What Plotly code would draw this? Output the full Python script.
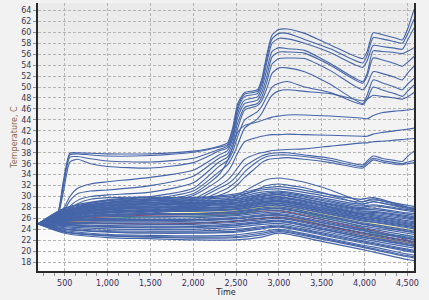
import plotly.graph_objects as go

# ---------------- data ----------------
T_LOW = [190, 500, 1000, 1500, 2000, 2500, 2800, 3000, 3500, 3950, 4100, 4500, 4577]
T_UP = [190, 400, 480, 560, 650, 800, 1000, 1500, 2000, 2300, 2400, 2460, 2520, 2600, 2750,
        2800, 2860, 2920, 3000, 3100, 3300, 3600, 3980, 4030, 4100, 4200, 4350, 4440, 4500, 4577]

X_TICKS = [500, 1000, 1500, 2000, 2500, 3000, 3500, 4000, 4500]
X_LABELS = ["500", "1,000", "1,500", "2,000", "2,500", "3,000", "3,500", "4,000", "4,500"]
Y_TICKS = list(range(18, 65, 2))

# coloured series (mostly hidden under the blue ones)
C_RED = [25, 25.8, 26.3, 26.6, 26.7, 26.9, 27.3, 27.4, 25.8, 24.2, 23.8, 22.0, 21.0]
C_ORANGE = [25, 25.4, 25.6, 25.7, 25.8, 26.0, 26.5, 26.6, 24.9, 23.0, 22.6, 21.6, 21.5]
C_YELLOW = [25, 25.9, 26.5, 26.9, 27.0, 27.4, 28.0, 28.1, 26.8, 25.3, 25.0, 24.0, 23.8]
C_GREEN = [25, 25.6, 26.0, 26.3, 26.4, 26.8, 27.6, 27.8, 26.2, 24.5, 23.2, 22.8, 22.7]
C_DARKRED = [25, 25.2, 25.1, 25.0, 25.1, 25.5, 26.0, 26.2, 24.8, 23.4, 23.0, 21.9, 21.7]

# lower band series
B01 = [25, 27.9, 29.4, 29.9, 29.7, 30.2, 31.2, 31.4, 30.2, 29.0, 29.4, 28.4, 28.2]
B02 = [25, 27.6, 29.0, 29.6, 29.5, 29.9, 30.8, 31.0, 29.8, 28.6, 29.0, 28.0, 27.8]
B03 = [25, 27.4, 28.8, 29.3, 29.2, 29.5, 30.3, 30.6, 29.3, 28.0, 28.3, 27.4, 27.2]
B04 = [25, 27.3, 28.5, 29.0, 28.9, 29.2, 30.0, 30.3, 28.9, 27.6, 27.6, 26.8, 26.6]
B05 = [25, 27.1, 28.3, 28.8, 28.6, 28.9, 29.6, 29.9, 28.5, 27.2, 27.1, 26.3, 26.1]
B06 = [25, 26.9, 28.0, 28.5, 28.4, 28.6, 29.3, 29.5, 28.2, 26.9, 26.7, 25.9, 25.7]
B07 = [25, 26.8, 27.7, 28.1, 28.0, 28.3, 29.0, 29.2, 27.9, 26.6, 26.3, 25.4, 25.2]
B08 = [25, 26.6, 27.5, 27.9, 27.9, 28.1, 28.8, 29.0, 27.6, 26.3, 26.0, 25.0, 24.8]
B09 = [25, 26.5, 27.2, 27.5, 27.5, 27.8, 28.5, 28.7, 27.3, 26.0, 25.6, 24.7, 24.5]
B10 = [25, 26.4, 27.0, 27.3, 27.3, 27.6, 28.2, 28.4, 27.0, 25.6, 25.3, 24.3, 24.1]
B11 = [25, 26.2, 26.7, 26.9, 26.9, 27.3, 27.9, 28.1, 26.7, 25.3, 24.9, 23.9, 23.7]
B12 = [25, 26.1, 26.5, 26.7, 26.7, 27.0, 27.6, 27.8, 26.4, 25.0, 24.6, 23.6, 23.4]
B13 = [25, 26.0, 26.3, 26.4, 26.4, 26.7, 27.3, 27.5, 26.1, 24.7, 24.3, 23.3, 23.1]
B14 = [25, 25.8, 26.0, 26.1, 26.1, 26.5, 27.0, 27.2, 25.8, 24.4, 24.0, 22.9, 22.7]
B15 = [25, 25.7, 25.8, 25.8, 25.8, 26.2, 26.7, 26.9, 25.5, 24.1, 23.7, 22.6, 22.4]
B16 = [25, 25.5, 25.5, 25.5, 25.5, 25.9, 26.4, 26.6, 25.2, 23.8, 23.4, 22.3, 22.1]
B17 = [25, 25.3, 25.2, 25.2, 25.2, 25.6, 26.1, 26.3, 24.9, 23.5, 23.1, 22.0, 21.8]
B18 = [25, 25.1, 25.0, 24.9, 24.9, 25.3, 25.8, 26.0, 24.6, 23.2, 22.8, 21.7, 21.5]
B19 = [25, 24.9, 24.7, 24.6, 24.6, 25.0, 25.5, 25.7, 24.3, 22.9, 22.5, 21.4, 21.2]
B20 = [25, 24.7, 24.4, 24.3, 24.3, 24.7, 25.2, 25.4, 24.0, 22.6, 22.2, 21.1, 20.9]
B21 = [25, 24.5, 24.1, 24.0, 24.0, 24.4, 24.9, 25.1, 23.7, 22.3, 21.9, 20.8, 20.6]
B22 = [25, 24.3, 23.8, 23.7, 23.7, 24.0, 24.5, 24.8, 23.4, 22.0, 21.6, 20.4, 20.2]
B23 = [25, 24.0, 23.5, 23.3, 23.3, 23.5, 24.1, 24.4, 23.0, 21.6, 21.2, 20.0, 19.8]
B24 = [25, 23.8, 23.1, 22.9, 22.8, 23.0, 23.6, 24.0, 22.6, 21.2, 20.8, 19.5, 19.3]
B25 = [25, 23.5, 22.8, 22.6, 22.4, 22.5, 23.0, 23.6, 22.2, 20.8, 20.3, 19.0, 18.8]
B26 = [25, 23.3, 22.5, 22.3, 22.1, 22.1, 22.6, 23.3, 21.8, 20.4, 19.9, 18.5, 18.3]
A01 = [25, 27.8, 29.2, 29.8, 29.8, 30.5, 31.5, 31.8, 30.6, 29.5, 29.8, 28.0, 27.6]
A02 = [25, 27.5, 28.9, 29.5, 29.3, 29.6, 30.5, 30.8, 29.5, 28.3, 28.5, 27.6, 27.4]
A03 = [25, 27.2, 28.7, 29.2, 29.0, 29.3, 30.1, 30.4, 29.0, 27.8, 27.9, 27.0, 26.9]
A04 = [25, 27.0, 28.4, 28.9, 28.7, 29.0, 29.8, 30.0, 28.7, 27.4, 27.3, 26.5, 26.3]
A05 = [25, 26.9, 28.1, 28.6, 28.5, 28.8, 29.5, 29.7, 28.4, 27.0, 26.9, 26.1, 25.9]
A06 = [25, 26.7, 27.9, 28.3, 28.2, 28.5, 29.1, 29.3, 28.0, 26.8, 26.5, 25.6, 25.4]
A07 = [25, 26.6, 27.6, 28.0, 27.8, 28.2, 28.9, 29.1, 27.7, 26.4, 26.1, 25.2, 25.0]
A08 = [25, 26.4, 27.3, 27.6, 27.6, 28.0, 28.6, 28.8, 27.4, 26.1, 25.8, 24.8, 24.6]
A09 = [25, 26.3, 27.1, 27.4, 27.4, 27.7, 28.3, 28.5, 27.1, 25.8, 25.4, 24.5, 24.3]
A10 = [25, 26.1, 26.6, 26.8, 26.8, 27.2, 27.7, 27.9, 26.5, 25.1, 24.7, 23.7, 23.5]
A11 = [25, 25.6, 25.6, 25.6, 25.7, 26.0, 26.5, 26.7, 25.3, 23.9, 23.5, 22.4, 22.2]
A12 = [25, 24.8, 24.5, 24.4, 24.5, 24.8, 25.3, 25.5, 24.1, 22.7, 22.3, 21.2, 21.0]
A13 = [25, 24.1, 23.6, 23.5, 23.5, 23.7, 24.3, 24.6, 23.2, 21.8, 21.4, 20.2, 20.0]
A14 = [25, 23.6, 22.9, 22.7, 22.6, 22.7, 23.3, 23.8, 22.4, 21.0, 20.5, 19.2, 19.0]

# upper series
T1 = [25, 26.0, 32.5, 37.9, 38.0, 37.9, 37.8, 37.8, 38.3, 39.2, 39.8, 42.5, 47.0, 49.0, 49.5,
      51.5, 56.0, 59.5, 60.5, 60.6, 59.8, 57.7, 55.2, 56.5, 59.9, 59.6, 59.0, 58.6, 60.5, 64.2]
T2 = [25, 26.0, 32.0, 37.6, 37.8, 37.6, 37.4, 37.5, 38.1, 39.0, 39.5, 42.0, 46.5, 48.7, 49.2,
      51.0, 55.3, 58.8, 59.8, 59.8, 58.7, 57.0, 54.4, 55.8, 59.0, 58.8, 58.3, 58.0, 59.6, 62.4]
T3 = [25, 25.9, 31.5, 37.2, 37.3, 36.9, 36.5, 36.3, 37.0, 38.6, 39.2, 41.5, 46.0, 48.3, 48.8,
      50.5, 54.5, 58.0, 58.9, 58.8, 58.0, 56.3, 53.6, 54.8, 57.6, 57.4, 57.1, 56.9, 58.5, 60.8]
T4 = [25, 25.8, 30.5, 36.3, 36.8, 36.0, 35.5, 35.2, 36.2, 38.3, 38.9, 41.0, 45.3, 47.6, 48.2,
      49.8, 53.2, 56.5, 57.2, 57.0, 56.7, 54.3, 51.0, 52.5, 56.6, 56.5, 56.3, 56.1, 56.5, 57.2]
T5 = [25, 25.6, 27.5, 30.0, 31.5, 32.3, 32.7, 33.5, 34.8, 37.6, 38.4, 40.5, 44.5, 47.0, 47.6,
      49.0, 52.0, 55.5, 56.4, 56.4, 56.2, 54.0, 50.7, 52.0, 55.3, 55.0, 54.3, 53.8, 54.5, 55.6]
T6 = [25, 25.5, 27.0, 29.2, 30.5, 31.0, 31.2, 32.0, 33.7, 37.0, 37.8, 39.8, 43.5, 46.3, 47.0,
      48.2, 51.0, 54.2, 55.2, 55.3, 55.2, 53.0, 49.5, 50.5, 52.8, 52.5, 51.8, 51.3, 52.5, 53.8]
T7 = [25, 25.4, 26.5, 28.2, 29.3, 30.0, 30.3, 30.8, 32.5, 36.3, 37.2, 39.0, 42.5, 45.8, 46.6,
      47.5, 49.8, 52.5, 53.5, 53.5, 52.8, 50.5, 47.0, 48.5, 51.3, 50.8, 50.0, 49.5, 50.5, 51.6]
T8 = [25, 25.4, 26.3, 27.8, 28.7, 29.5, 29.8, 30.0, 31.5, 35.5, 36.6, 38.2, 41.0, 44.0, 45.5,
      46.5, 48.3, 50.0, 50.7, 51.0, 50.0, 49.0, 46.8, 47.8, 50.0, 49.5, 48.8, 48.3, 49.2, 50.4]
T9 = [25, 25.3, 26.0, 27.2, 28.0, 28.8, 29.3, 29.6, 31.0, 34.5, 35.8, 37.3, 39.5, 42.5, 44.2,
      45.2, 47.0, 48.5, 49.3, 49.5, 49.2, 48.8, 47.5, 47.8, 48.5, 48.3, 48.0, 47.8, 48.2, 49.0]
T10 = [25, 25.3, 25.9, 26.8, 27.5, 28.2, 28.7, 29.2, 30.5, 34.0, 36.5, 39.0, 41.8, 43.0, 43.6,
       43.9, 44.2, 44.5, 44.7, 44.9, 44.9, 44.7, 44.3, 44.2, 44.8, 45.3, 45.6, 45.7, 45.8, 46.0]
X1 = [25, 25.3, 25.8, 26.6, 27.2, 27.8, 28.3, 28.8, 30.2, 33.0, 34.5, 36.0, 38.0, 40.0, 40.8,
      41.0, 41.2, 41.3, 41.3, 41.4, 41.3, 41.2, 41.0, 41.0, 41.4, 41.7, 42.0, 42.2, 42.3, 42.5]
X2 = [25, 25.2, 25.6, 26.3, 26.9, 27.4, 27.8, 28.3, 29.6, 32.0, 33.0, 34.0, 35.3, 36.8, 37.8,
      38.0, 38.2, 38.4, 38.5, 38.6, 38.7, 39.2, 39.8, 39.8, 40.0, 40.1, 40.3, 40.4, 40.5, 40.6]
X3 = [25, 25.2, 25.5, 26.0, 26.6, 27.2, 27.6, 28.0, 29.2, 31.5, 32.3, 33.0, 34.0, 35.5, 37.0,
      37.4, 37.7, 37.9, 38.0, 38.0, 37.6, 37.0, 35.8, 36.5, 37.4, 37.0, 36.6, 36.4, 37.3, 38.3]
X4 = [25, 25.2, 25.4, 25.9, 26.4, 26.9, 27.3, 27.7, 28.8, 30.8, 31.5, 32.2, 33.0, 34.5, 36.4,
      36.9, 37.3, 37.5, 37.6, 37.6, 37.3, 36.6, 35.5, 36.2, 37.0, 36.6, 36.2, 36.0, 36.3, 36.6]
X5 = [25, 25.1, 25.3, 25.7, 26.2, 26.6, 27.0, 27.4, 28.4, 30.2, 30.8, 31.4, 32.2, 33.5, 35.5,
      36.2, 36.7, 36.9, 37.0, 37.1, 36.8, 36.2, 35.2, 35.8, 36.7, 36.3, 35.9, 35.8, 36.0, 36.2]
X7 = [25, 25.1, 25.3, 25.6, 26.0, 26.4, 26.8, 27.2, 28.0, 29.2, 29.6, 29.9, 30.3, 31.0, 32.3,
      32.7, 33.1, 33.3, 33.4, 33.2, 32.6, 31.2, 29.0, 29.3, 29.6, 29.2, 28.6, 28.3, 28.1, 27.9]
X8 = [25, 25.1, 25.2, 25.5, 25.9, 26.3, 26.6, 27.0, 27.7, 28.8, 29.1, 29.4, 29.8, 30.4, 31.3,
      31.7, 32.0, 32.2, 32.3, 32.1, 31.6, 30.3, 28.6, 28.8, 29.1, 28.8, 28.3, 28.0, 27.8, 27.6]

COLORED = [(C_RED, "#d42020"), (C_ORANGE, "#e88a20"), (C_YELLOW, "#f0e040"),
           (C_GREEN, "#30b060"), (C_DARKRED, "#902020")]
LOWER = [B01, B02, B03, B04, B05, B06, B07, B08, B09, B10, B11, B12, B13,
         B14, B15, B16, B17, B18, B19, B20, B21, B22, B23, B24, B25, B26,
         A01, A02, A03, A04, A05, A06, A07, A08, A09, A10, A11, A12, A13, A14]
UPPER = [T1, T2, T3, T4, T5, T6, T7, T8, T9, T10, X1, X2, X3, X4, X5, X7, X8]

BLUE = "#4565a8"

fig = go.Figure()
for ys, col in COLORED:
    fig.add_trace(go.Scatter(x=T_LOW, y=ys, mode="lines",
                             line=dict(color=col, width=1, shape="spline", smoothing=0.8)))
for ys in LOWER:
    fig.add_trace(go.Scatter(x=T_LOW, y=ys, mode="lines",
                             line=dict(color=BLUE, width=1.2, shape="spline", smoothing=0.8)))
for ys in UPPER:
    fig.add_trace(go.Scatter(x=T_UP, y=ys, mode="lines",
                             line=dict(color=BLUE, width=1.1, shape="spline", smoothing=0.6)))

# vertical gradient background of the plot area
shapes = []
n = 30
for i in range(n):
    f = i / (n - 1)
    g = int(round(0xea + (0xfd - 0xea) * f))
    col = "#%02x%02x%02x" % (g, g, g)
    shapes.append(dict(type="rect", xref="paper", yref="paper", x0=0, x1=1,
                       y0=1 - (i + 1) / n, y1=1 - i / n, fillcolor=col,
                       line=dict(width=0), layer="below"))

fig.update_layout(
    width=429, height=300,
    margin=dict(l=38, r=15, t=3, b=29),
    paper_bgcolor="#f2f2f2", plot_bgcolor="#f4f4f4",
    showlegend=False, hovermode=False,
    font=dict(family="DejaVu Sans", size=8, color="#333344"),
    shapes=shapes,
    xaxis=dict(range=[188, 4577], tickvals=X_TICKS, ticktext=X_LABELS,
               showgrid=True, gridcolor="#b4b4b4", griddash="3px,2px", gridwidth=1,
               showline=True, linecolor="#2a2a2a", linewidth=2, mirror=False,
               ticks="outside", ticklen=3, tickcolor="#909090",
               minor=dict(dtick=125, tick0=0, ticks="outside", ticklen=3, tickcolor="#909090", showgrid=False),
               tickfont=dict(color="#3a2a5a", size=8),
               title=dict(text="Time", font=dict(size=8, color="#222222"), standoff=2),
               zeroline=False),
    yaxis=dict(range=[16.4, 65.35], tickvals=Y_TICKS,
               showgrid=True, gridcolor="#b4b4b4", griddash="3px,2px", gridwidth=1,
               showline=True, linecolor="#2a2a2a", linewidth=2, mirror=True,
               ticks="outside", ticklen=3, tickcolor="#909090",
               tickfont=dict(color="#3a3a50", size=8),
               title=dict(text="Temperature, C", font=dict(size=8, color="#8a6a48"), standoff=2),
               zeroline=False),
)

fig.write_html("out.html")
